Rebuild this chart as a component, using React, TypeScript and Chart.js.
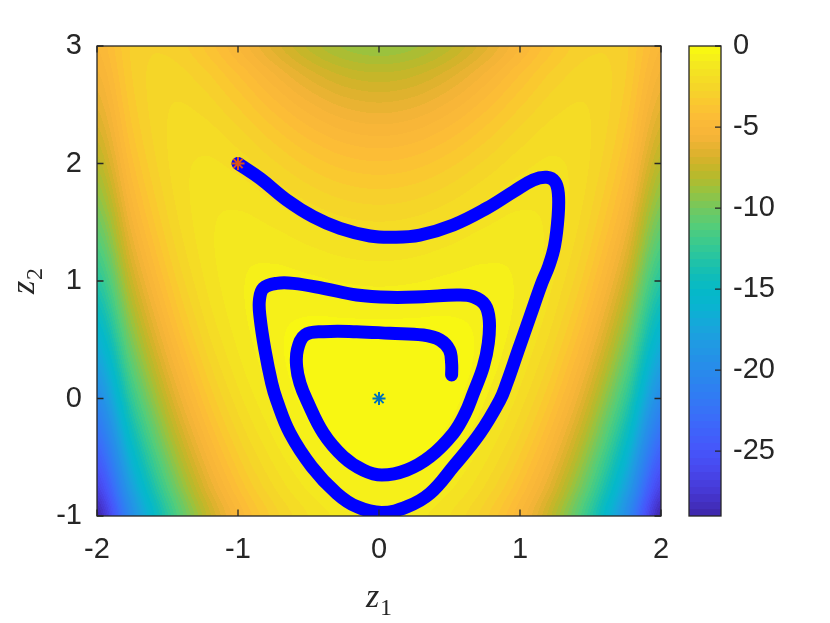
import React, { useEffect, useRef } from "react";
import { Chart, registerables } from "chart.js";

Chart.register(...registerables);

// ---------------- data ----------------
// trajectory
const pathZ1 = [
  -1.0, -0.84, -0.655, -0.466, -0.277, -0.064, 0.1, 0.29, 0.527, 0.764, 0.953, 1.094, 1.189, 1.248, 1.272, 1.27, 1.245, 1.205,
  1.154, 1.071, 0.988, 0.906, 0.858, 0.716, 0.527, 0.362, 0.2, 0.02, -0.158, -0.3, -0.477, -0.631, -0.726,
  -0.761, -0.809, -0.844, -0.848, -0.82, -0.726, -0.608, -0.395, -0.158, 0.078, 0.314, 0.551, 0.669, 0.752,
  0.782, 0.775, 0.74, 0.669, 0.61, 0.527, 0.362, 0.196, 0.02, -0.111, -0.253, -0.394, -0.513,
  -0.56, -0.584, -0.579, -0.525, -0.395, -0.158, 0.078, 0.314, 0.433, 0.499, 0.515, 0.515,
];
const pathZ2 = [
  2.0, 1.87, 1.69, 1.547, 1.448, 1.383, 1.372, 1.391, 1.477, 1.619, 1.76, 1.86, 1.883, 1.845, 1.746, 1.547, 1.3, 1.13,
  0.98, 0.696, 0.413, 0.129, -0.013, -0.296, -0.58, -0.807, -0.92, -0.97, -0.92, -0.807, -0.58, -0.296, -0.013,
  0.129, 0.413, 0.696, 0.838, 0.938, 0.98, 0.98, 0.938, 0.881, 0.861, 0.866, 0.881, 0.866, 0.796,
  0.668, 0.47, 0.271, 0.044, -0.13, -0.296, -0.495, -0.609, -0.651, -0.609, -0.495, -0.296, -0.013,
  0.129, 0.271, 0.413, 0.54, 0.569, 0.569, 0.555, 0.54, 0.498, 0.413, 0.3, 0.2,
];
const startZ1 = [-1];
const startZ2 = [2];
const modeZ1 = [0];
const modeZ2 = [0];

// background field (log density) sampled on a grid, rows follow gridZ2
const gridZ1 = [-2, -1.75, -1.5, -1.25, -1, -0.75, -0.5, -0.25, 0, 0.25, 0.5, 0.75, 1, 1.25, 1.5, 1.75, 2];
const gridZ2 = [-1, -0.75, -0.5, -0.25, 0, 0.25, 0.5, 0.75, 1, 1.25, 1.5, 1.75, 2, 2.25, 2.5, 2.75, 3];
const logDensity = [
  [-29, -19.57, -12.81, -8.13, -5, -3, -1.81, -1.19, -1, -1.19, -1.81, -3, -5, -8.13, -12.81, -19.57, -29],
  [-26.56, -17.6, -11.25, -6.91, -4.06, -2.29, -1.25, -0.72, -0.56, -0.72, -1.25, -2.29, -4.06, -6.91, -11.25, -17.6, -26.56],
  [-24.25, -15.75, -9.81, -5.82, -3.25, -1.69, -0.81, -0.38, -0.25, -0.38, -0.81, -1.69, -3.25, -5.82, -9.81, -15.75, -24.25],
  [-22.06, -14.04, -8.5, -4.85, -2.56, -1.22, -0.5, -0.16, -0.06, -0.16, -0.5, -1.22, -2.56, -4.85, -8.5, -14.04, -22.06],
  [-20, -12.44, -7.31, -4, -2, -0.88, -0.31, -0.07, 0, -0.07, -0.31, -0.88, -2, -4, -7.31, -12.44, -20],
  [-18.06, -10.97, -6.25, -3.29, -1.56, -0.66, -0.25, -0.1, -0.06, -0.1, -0.25, -0.66, -1.56, -3.29, -6.25, -10.97, -18.06],
  [-16.25, -9.63, -5.31, -2.69, -1.25, -0.57, -0.31, -0.25, -0.25, -0.25, -0.31, -0.57, -1.25, -2.69, -5.31, -9.63, -16.25],
  [-14.56, -8.41, -4.5, -2.22, -1.06, -0.6, -0.5, -0.54, -0.56, -0.54, -0.5, -0.6, -1.06, -2.22, -4.5, -8.41, -14.56],
  [-13, -7.32, -3.81, -1.88, -1, -0.75, -0.81, -0.94, -1, -0.94, -0.81, -0.75, -1, -1.88, -3.81, -7.32, -13],
  [-11.56, -6.35, -3.25, -1.66, -1.06, -1.04, -1.25, -1.47, -1.56, -1.47, -1.25, -1.04, -1.06, -1.66, -3.25, -6.35, -11.56],
  [-10.25, -5.5, -2.81, -1.57, -1.25, -1.44, -1.81, -2.13, -2.25, -2.13, -1.81, -1.44, -1.25, -1.57, -2.81, -5.5, -10.25],
  [-9.06, -4.79, -2.5, -1.6, -1.56, -1.97, -2.5, -2.91, -3.06, -2.91, -2.5, -1.97, -1.56, -1.6, -2.5, -4.79, -9.06],
  [-8, -4.19, -2.31, -1.75, -2, -2.63, -3.31, -3.82, -4, -3.82, -3.31, -2.63, -2, -1.75, -2.31, -4.19, -8],
  [-7.06, -3.72, -2.25, -2.04, -2.56, -3.41, -4.25, -4.85, -5.06, -4.85, -4.25, -3.41, -2.56, -2.04, -2.25, -3.72, -7.06],
  [-6.25, -3.38, -2.31, -2.44, -3.25, -4.32, -5.31, -6, -6.25, -6, -5.31, -4.32, -3.25, -2.44, -2.31, -3.38, -6.25],
  [-5.56, -3.16, -2.5, -2.97, -4.06, -5.35, -6.5, -7.29, -7.56, -7.29, -6.5, -5.35, -4.06, -2.97, -2.5, -3.16, -5.56],
  [-5, -3.07, -2.81, -3.63, -5, -6.5, -7.81, -8.69, -9, -8.69, -7.81, -6.5, -5, -3.63, -2.81, -3.07, -5],
];

const xTicks = [-2, -1, 0, 1, 2];
const yTicks = [-1, 0, 1, 2, 3];
const colorbarTicks = [-25, -20, -15, -10, -5, 0];
const colorRange = [-29, 0];

// ---------------- styling ----------------
const TEXT = "#262626";
const SANS = '"Liberation Sans", Arial, Helvetica, sans-serif';
const SERIF = '"Liberation Serif", "DejaVu Serif", serif';
const TICK_FONT = { family: SANS, size: 29, lineHeight: 1.2 };
const N_COLORS = 64;

// parula-like colormap stops [t, r, g, b]
const PARULA_STOPS: number[][] = [
  [0.0, 62, 38, 168],
  [0.05, 70, 55, 210],
  [0.1, 72, 72, 238],
  [0.14, 70, 85, 250],
  [0.2, 60, 105, 250],
  [0.26, 48, 125, 243],
  [0.31, 40, 138, 235],
  [0.36, 33, 152, 228],
  [0.4, 25, 165, 220],
  [0.45, 8, 180, 208],
  [0.48, 5, 185, 200],
  [0.52, 20, 190, 180],
  [0.57, 50, 200, 150],
  [0.62, 85, 205, 120],
  [0.655, 115, 200, 95],
  [0.69, 150, 195, 65],
  [0.72, 180, 187, 45],
  [0.75, 205, 180, 40],
  [0.78, 228, 178, 48],
  [0.81, 246, 180, 56],
  [0.845, 252, 187, 56],
  [0.88, 250, 200, 48],
  [0.914, 245, 214, 40],
  [0.965, 244, 234, 30],
  [1.0, 249, 251, 14],
];

function stopColor(t: number): number[] {
  for (let i = 1; i < PARULA_STOPS.length; i++) {
    const b = PARULA_STOPS[i];
    if (t <= b[0]) {
      const a = PARULA_STOPS[i - 1];
      const f = (t - a[0]) / (b[0] - a[0]);
      return [a[1] + (b[1] - a[1]) * f, a[2] + (b[2] - a[2]) * f, a[3] + (b[3] - a[3]) * f].map(Math.round);
    }
  }
  const l = PARULA_STOPS[PARULA_STOPS.length - 1];
  return [l[1], l[2], l[3]];
}

const LUT: number[][] = [];
for (let k = 0; k < N_COLORS; k++) LUT.push(stopColor((k + 0.5) / N_COLORS));

function colorIndex(v: number): number {
  const t = (v - colorRange[0]) / (colorRange[1] - colorRange[0]);
  return Math.max(0, Math.min(N_COLORS - 1, Math.floor(t * N_COLORS)));
}

function cubic(p0: number, p1: number, p2: number, p3: number, t: number) {
  return p1 + 0.5 * t * (p2 - p0 + t * (2 * p0 - 5 * p1 + 4 * p2 - p3 + t * (3 * (p1 - p2) + p3 - p0)));
}

function sampleField(z1: number, z2: number): number {
  const nx = gridZ1.length;
  const ny = gridZ2.length;
  const fx = (z1 - gridZ1[0]) / (gridZ1[1] - gridZ1[0]);
  const fy = (z2 - gridZ2[0]) / (gridZ2[1] - gridZ2[0]);
  const ix = Math.max(0, Math.min(nx - 2, Math.floor(fx)));
  const iy = Math.max(0, Math.min(ny - 2, Math.floor(fy)));
  const tx = fx - ix;
  const ty = fy - iy;
  const cx = (i: number) => Math.max(0, Math.min(nx - 1, i));
  const cy = (i: number) => Math.max(0, Math.min(ny - 1, i));
  const row = (r: number) => {
    const R = logDensity[cy(r)];
    return cubic(R[cx(ix - 1)], R[cx(ix)], R[cx(ix + 1)], R[cx(ix + 2)], tx);
  };
  return cubic(row(iy - 1), row(iy), row(iy + 1), row(iy + 2), ty);
}

const fieldPlugin = {
  id: "fieldBackground",
  beforeDatasetsDraw(chart: any) {
    const { ctx, chartArea: a, scales } = chart;
    const xs = scales.x;
    const ys = scales.y;
    const left = Math.round(a.left);
    const top = Math.round(a.top);
    const w = Math.round(a.right) - left;
    const h = Math.round(a.bottom) - top;
    const img = ctx.createImageData(w, h);
    const colVals: number[] = [];
    for (let i = 0; i < w; i++) colVals.push(xs.getValueForPixel(left + i + 0.5));
    for (let j = 0; j < h; j++) {
      const z2 = ys.getValueForPixel(top + j + 0.5);
      for (let i = 0; i < w; i++) {
        const c = LUT[colorIndex(sampleField(colVals[i], z2))];
        const p = (j * w + i) * 4;
        img.data[p] = c[0];
        img.data[p + 1] = c[1];
        img.data[p + 2] = c[2];
        img.data[p + 3] = 255;
      }
    }
    ctx.putImageData(img, left, top);
  },
};

const framePlugin = {
  id: "frameTicksColorbar",
  afterDatasetsDraw(chart: any) {
    const { ctx, chartArea: a, scales } = chart;
    const tl = 6.5;
    ctx.save();
    ctx.strokeStyle = TEXT;
    ctx.lineWidth = 1.3;
    ctx.beginPath();
    for (const v of xTicks) {
      const x = scales.x.getPixelForValue(v);
      ctx.moveTo(x, a.bottom);
      ctx.lineTo(x, a.bottom - tl);
      ctx.moveTo(x, a.top);
      ctx.lineTo(x, a.top + tl);
    }
    for (const v of yTicks) {
      const y = scales.y.getPixelForValue(v);
      ctx.moveTo(a.left, y);
      ctx.lineTo(a.left + tl, y);
      ctx.moveTo(a.right, y);
      ctx.lineTo(a.right - tl, y);
    }
    ctx.stroke();
    ctx.strokeRect(a.left, a.top, a.right - a.left, a.bottom - a.top);
    ctx.restore();
  },
  afterDraw(chart: any) {
    const { ctx, chartArea: a, scales } = chart;
    const cb = scales.cb;
    const cbLeft = a.right + 28;
    const cbWidth = 32;
    ctx.save();
    const step = (colorRange[1] - colorRange[0]) / N_COLORS;
    for (let k = 0; k < N_COLORS; k++) {
      const y0 = cb.getPixelForValue(colorRange[0] + k * step);
      const y1 = cb.getPixelForValue(colorRange[0] + (k + 1) * step);
      const c = LUT[k];
      ctx.fillStyle = `rgb(${c[0]},${c[1]},${c[2]})`;
      ctx.fillRect(cbLeft, Math.floor(y1), cbWidth, Math.ceil(y0) - Math.floor(y1));
    }
    ctx.strokeStyle = TEXT;
    ctx.lineWidth = 1.3;
    const yTop = cb.getPixelForValue(colorRange[1]);
    const yBot = cb.getPixelForValue(colorRange[0]);
    ctx.strokeRect(cbLeft, yTop, cbWidth, yBot - yTop);
    ctx.beginPath();
    for (const v of colorbarTicks) {
      const y = cb.getPixelForValue(v);
      ctx.moveTo(cbLeft + cbWidth, y);
      ctx.lineTo(cbLeft + cbWidth - 6, y);
    }
    ctx.stroke();

    // axis titles
    ctx.fillStyle = TEXT;
    ctx.textAlign = "left";
    ctx.textBaseline = "alphabetic";
    const zFont = `italic 34px ${SERIF}`;
    const subFont = `24px ${SERIF}`;
    ctx.font = zFont;
    const zw = ctx.measureText("z").width;
    ctx.font = subFont;
    const sw = ctx.measureText("1").width;
    const cx = (a.left + a.right) / 2;
    const x0 = cx - (zw + sw + 1) / 2;
    ctx.font = zFont;
    ctx.fillText("z", x0, a.bottom + 91);
    ctx.font = subFont;
    ctx.fillText("1", x0 + zw + 1, a.bottom + 99);

    ctx.translate(34, (a.top + a.bottom) / 2);
    ctx.rotate(-Math.PI / 2);
    ctx.font = subFont;
    const sw2 = ctx.measureText("2").width;
    const y0 = -(zw + sw2 + 1) / 2;
    ctx.font = zFont;
    ctx.fillText("z", y0, 0);
    ctx.font = subFont;
    ctx.fillText("2", y0 + zw + 1, 8);
    ctx.restore();
  },
};

function ticksFrom(values: number[]) {
  return (scale: any) => {
    scale.ticks = values.map((v) => ({ value: v }));
  };
}

export default function App() {
  const canvasRef = useRef<HTMLCanvasElement | null>(null);

  useEffect(() => {
    const canvas = canvasRef.current;
    if (!canvas) return;
    const path = pathZ1.map((x, i) => ({ x, y: pathZ2[i] }));
    const start = startZ1.map((x, i) => ({ x, y: startZ2[i] }));
    const mode = modeZ1.map((x, i) => ({ x, y: modeZ2[i] }));

    const chart = new Chart(canvas, {
      type: "scatter",
      data: {
        datasets: [
          {
            data: start,
            pointStyle: "star",
            pointRadius: 6.5,
            pointBorderWidth: 2,
            pointBorderColor: "rgb(217,83,25)",
            pointBackgroundColor: "rgb(217,83,25)",
            showLine: false,
            order: 0,
          } as any,
          {
            data: mode,
            pointStyle: "star",
            pointRadius: 6.5,
            pointBorderWidth: 2,
            pointBorderColor: "rgb(0,114,189)",
            pointBackgroundColor: "rgb(0,114,189)",
            showLine: false,
            order: 0,
          } as any,
          {
            data: path,
            showLine: true,
            borderColor: "rgb(0,0,255)",
            backgroundColor: "rgb(0,0,255)",
            borderWidth: 13,
            pointRadius: 0,
            tension: 0.4,
            borderCapStyle: "round",
            borderJoinStyle: "round",
            clip: 0,
            order: 1,
          } as any,
        ],
      },
      options: {
        responsive: false,
        animation: false,
        devicePixelRatio: 1,
        events: [],
        layout: { padding: { top: 46, left: 0, right: 0, bottom: 0 } },
        plugins: { legend: { display: false }, tooltip: { enabled: false } },
        scales: {
          x: {
            type: "linear",
            position: "bottom",
            min: -2,
            max: 2,
            grid: { display: false, drawTicks: false },
            border: { display: false },
            ticks: { font: TICK_FONT, color: TEXT, padding: 17, maxRotation: 0, autoSkip: false },
            afterBuildTicks: ticksFrom(xTicks),
            afterFit: (s: any) => {
              s.height = 107;
            },
          },
          y: {
            type: "linear",
            position: "left",
            min: -1,
            max: 3,
            grid: { display: false, drawTicks: false },
            border: { display: false },
            ticks: { font: TICK_FONT, color: TEXT, padding: 15, autoSkip: false },
            afterBuildTicks: ticksFrom(yTicks),
            afterFit: (s: any) => {
              s.width = 97;
              s.paddingTop = 0;
              s.paddingBottom = 0;
            },
          },
          cb: {
            type: "linear",
            axis: "y",
            position: "right",
            min: colorRange[0],
            max: colorRange[1],
            grid: { display: false, drawTicks: false },
            border: { display: false },
            ticks: { font: TICK_FONT, color: TEXT, padding: 72, autoSkip: false },
            afterBuildTicks: ticksFrom(colorbarTicks),
            afterFit: (s: any) => {
              s.width = 169;
              s.paddingTop = 0;
              s.paddingBottom = 0;
            },
          },
        } as any,
      },
      plugins: [fieldPlugin, framePlugin],
    });
    return () => chart.destroy();
  }, []);

  return (
    <div style={{ position: "fixed", left: 0, top: 0, width: 830, height: 623, background: "#ffffff" }}>
      <canvas ref={canvasRef} width={830} height={623} style={{ display: "block" }} />
    </div>
  );
}
